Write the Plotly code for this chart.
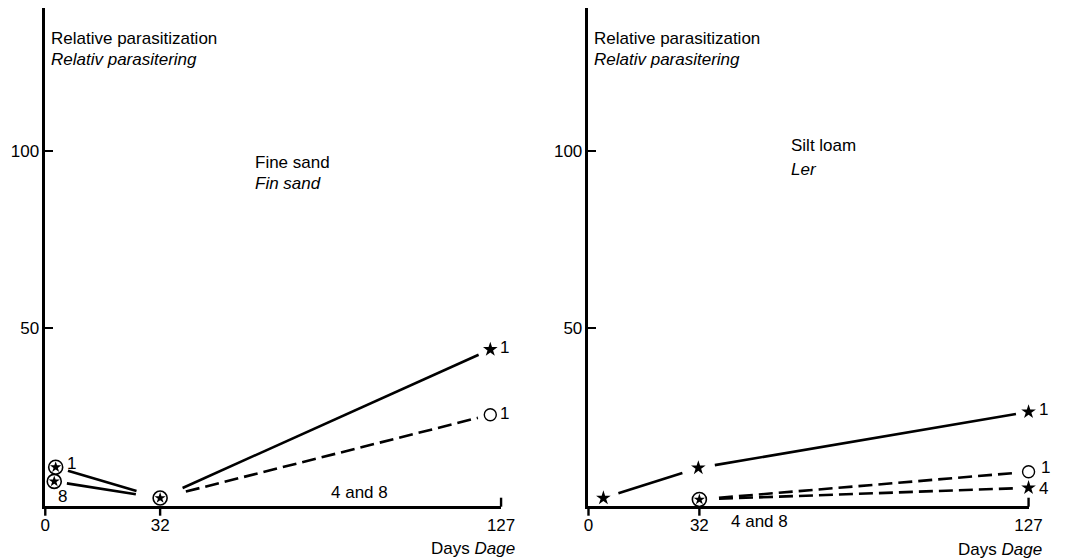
import plotly.graph_objects as go

W, H = 1074, 560

# ---------------- data ----------------
Y_TICKS = [50, 100]
Y_TICK_TEXT = ["50", "100"]
X_TICKS = [0, 32, 127]
X_TICK_TEXT = ["0", "32", "127"]

# Fine sand / Fin sand
fs_star1_days = [2.9, 32, 124]
fs_star1_val = [10.8, 2.1, 44.0]
fs_circ1_days = [2.9, 32, 124]
fs_circ1_val = [10.8, 2.1, 25.6]
fs_d8_days = [2.5, 32]
fs_d8_val = [6.8, 2.1]

# Silt loam / Ler
sl_star1_days = [4.3, 31.7, 127]
sl_star1_val = [2.1, 10.6, 26.4]
sl_circ1_days = [32, 127]
sl_circ1_val = [1.7, 9.5]
sl_star4_days = [32, 127]
sl_star4_val = [1.7, 5.0]

# ---------------- layout geometry ----------------
FONT = "Liberation Sans, Arial, Helvetica, sans-serif"
FS = 17
X0_L, X1_L = 41, 505
X0_R, X1_R = 594, 1042
Y_BASE, Y_TOP = 505.5, 8
Y_RANGE = [0, 140.3]
X_RANGE = [0, 127]
dom_y = [(H - Y_BASE) / H, (H - Y_TOP) / H]
SY = (Y_BASE - Y_TOP) / (Y_RANGE[1] - Y_RANGE[0])
SX_L = (X1_L - X0_L) / (X_RANGE[1] - X_RANGE[0])
SX_R = (X1_R - X0_R) / (X_RANGE[1] - X_RANGE[0])


def gapped(xs, ys, sx, gaps):
    X, Y = [], []
    for i in range(len(xs) - 1):
        x0, y0, x1, y1 = xs[i], ys[i], xs[i + 1], ys[i + 1]
        dx, dy = (x1 - x0) * sx, (y1 - y0) * SY
        L = (dx * dx + dy * dy) ** 0.5
        t0, t1 = gaps[i] / L, 1 - gaps[i + 1] / L
        X += [x0 + (x1 - x0) * t0, x0 + (x1 - x0) * t1, None]
        Y += [y0 + (y1 - y0) * t0, y0 + (y1 - y0) * t1, None]
    return X, Y


fig = go.Figure()
LW = 2.6
DASH = "14px,6px"


def line(xs, ys, sx, gaps, dash, xa, ya):
    gx, gy = gapped(xs, ys, sx, gaps)
    fig.add_trace(go.Scatter(x=gx, y=gy, mode="lines", xaxis=xa, yaxis=ya,
                             line=dict(color="black", width=LW, dash=dash),
                             hoverinfo="skip", showlegend=False))


def star(xs, ys, xa, ya):
    fig.add_trace(go.Scatter(x=xs, y=ys, mode="markers", xaxis=xa, yaxis=ya, cliponaxis=False,
                             marker=dict(symbol="star", size=11, color="black",
                                         line=dict(width=0)), showlegend=False))


def circ(xs, ys, xa, ya):
    fig.add_trace(go.Scatter(x=xs, y=ys, mode="markers", xaxis=xa, yaxis=ya, cliponaxis=False,
                             marker=dict(symbol="circle", size=12, color="white",
                                         line=dict(width=1.4, color="black")), showlegend=False))


def both(xs, ys, xa, ya):
    fig.add_trace(go.Scatter(x=xs, y=ys, mode="markers", xaxis=xa, yaxis=ya, cliponaxis=False,
                             marker=dict(symbol="circle", size=14, color="white",
                                         line=dict(width=1.6, color="black")), showlegend=False))
    fig.add_trace(go.Scatter(x=xs, y=ys, mode="markers", xaxis=xa, yaxis=ya, cliponaxis=False,
                             marker=dict(symbol="star", size=8.5, color="black",
                                         line=dict(width=0)), showlegend=False))


# ---- left panel ----
line(fs_star1_days, fs_star1_val, SX_L, [13, 25, 13], "solid", "x", "y")
line(fs_circ1_days[1:], fs_circ1_val[1:], SX_L, [27, 13], DASH, "x", "y")
line(fs_d8_days, fs_d8_val, SX_L, [13, 25], "solid", "x", "y")
both([fs_star1_days[0], fs_d8_days[0], fs_star1_days[1]],
     [fs_star1_val[0], fs_d8_val[0], fs_star1_val[1]], "x", "y")
star([fs_star1_days[2]], [fs_star1_val[2]], "x", "y")
circ([fs_circ1_days[2]], [fs_circ1_val[2]], "x", "y")

# ---- right panel ----
line(sl_star1_days, sl_star1_val, SX_R, [16, 17, 13], "solid", "x2", "y2")
line(sl_circ1_days, sl_circ1_val, SX_R, [20, 14], DASH, "x2", "y2")
line(sl_star4_days, sl_star4_val, SX_R, [20, 14], DASH, "x2", "y2")
star(sl_star1_days, sl_star1_val, "x2", "y2")
star([sl_star4_days[1]], [sl_star4_val[1]], "x2", "y2")
circ([sl_circ1_days[1]], [sl_circ1_val[1]], "x2", "y2")
both([sl_circ1_days[0]], [sl_circ1_val[0]], "x2", "y2")

# ---- axes ----
common_x = dict(range=X_RANGE, showgrid=False, zeroline=False, showline=True,
                linecolor="black", linewidth=2.5, tickvals=X_TICKS, ticktext=X_TICK_TEXT,
                ticks="", ticklabelstandoff=2, tickfont=dict(family=FONT, size=FS, color="black"),
                fixedrange=True)
common_y = dict(range=Y_RANGE, domain=dom_y, showgrid=False, zeroline=False, showline=True,
                linecolor="black", linewidth=2.5, tickvals=Y_TICKS, ticktext=Y_TICK_TEXT,
                ticks="inside", ticklen=8, tickwidth=2.2, tickcolor="black",
                tickfont=dict(family=FONT, size=FS, color="black"), fixedrange=True)
fig.update_layout(
    xaxis=dict(domain=[X0_L / W, X1_L / W], anchor="y", **common_x),
    yaxis=dict(anchor="x", **common_y),
    xaxis2=dict(domain=[X0_R / W, X1_R / W], anchor="y2", **common_x),
    yaxis2=dict(anchor="x2", **common_y),
)

# x tick marks (down at 0 and 32, up at the end 127)
TICK_DIR = [-1, -1, 1]
shapes = []
for x0p, sx in [(X0_L, SX_L), (X0_R, SX_R)]:
    for tv, d in zip(X_TICKS, TICK_DIR):
        px = x0p + tv * sx
        yb = Y_BASE + 1.2
        shapes.append(dict(type="line", xref="paper", yref="paper",
                           x0=px / W, x1=px / W, y0=(H - yb) / H, y1=(H - (yb - d * 9)) / H,
                           line=dict(color="black", width=2.4)))
fig.update_layout(shapes=shapes)

# ---- text ----
ann = []


def ptext(txt, px, py, italic=False, anchor="left"):
    ann.append(dict(text=f"<i>{txt}</i>" if italic else txt, xref="paper", yref="paper",
                    x=px / W, y=1 - py / H, xanchor=anchor, yanchor="middle", showarrow=False,
                    font=dict(family=FONT, size=FS, color="black")))


def dtext(txt, x, y, xa, ya, xs=0, ys=0, anchor="left"):
    ann.append(dict(text=txt, xref=xa, yref=ya, x=x, y=y, xanchor=anchor, yanchor="middle",
                    xshift=xs, yshift=ys, showarrow=False,
                    font=dict(family=FONT, size=FS, color="black")))


ptext("Relative parasitization", 45, 39)
ptext("Relativ parasitering", 45, 60, italic=True)
ptext("Fine sand", 252, 162)
ptext("Fin sand", 252, 184, italic=True)
ptext("Days <i>Dage</i>", 521, 548, anchor="right")

ptext("Relative parasitization", 598, 39)
ptext("Relativ parasitering", 598, 60, italic=True)
ptext("Silt loam", 798, 146)
ptext("Ler", 798, 169, italic=True)
ptext("Days <i>Dage</i>", 1058, 549, anchor="right")
ptext("4 and 8", 768, 521, anchor="center")

dtext("1", fs_star1_days[0], fs_star1_val[0], "x", "y", xs=9, ys=4)
dtext("8", fs_d8_days[0], fs_d8_val[0], "x", "y", xs=2, ys=-15)
dtext("1", fs_star1_days[2], fs_star1_val[2], "x", "y", xs=8, ys=2)
dtext("1", fs_circ1_days[2], fs_circ1_val[2], "x", "y", xs=8, ys=1)
dtext("4 and 8", 87.6, 3.7, "x", "y", anchor="center")

dtext("1", sl_star1_days[2], sl_star1_val[2], "x2", "y2", xs=8, ys=2)
dtext("1", sl_circ1_days[1], sl_circ1_val[1], "x2", "y2", xs=10, ys=4)
dtext("4", sl_star4_days[1], sl_star4_val[1], "x2", "y2", xs=8, ys=-1)

fig.update_layout(annotations=ann, width=W, height=H, margin=dict(l=0, r=0, t=0, b=0),
                  paper_bgcolor="white", plot_bgcolor="white", showlegend=False)

fig.write_html("out.html")
